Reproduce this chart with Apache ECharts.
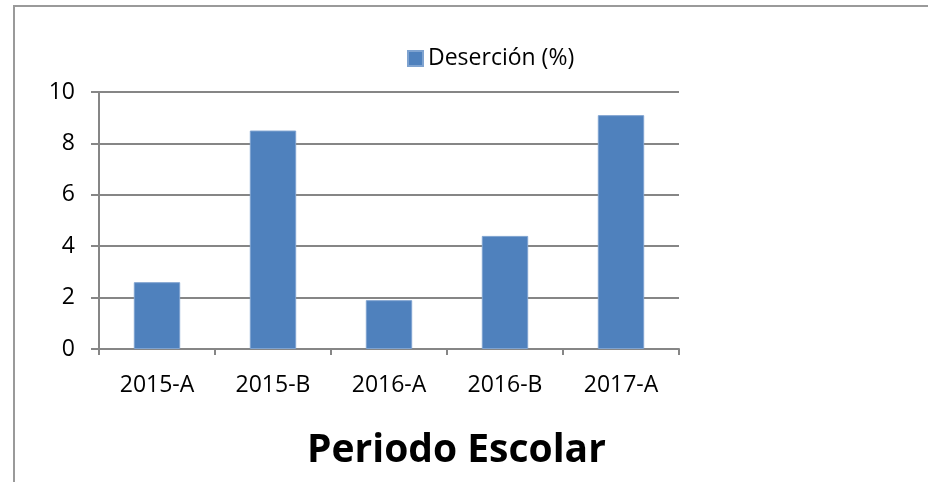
<!DOCTYPE html>
<html>
<head>
<meta charset="utf-8">
<script src="https://cdn.jsdelivr.net/npm/echarts@6/dist/echarts.min.js"></script>
<style>html,body{margin:0;padding:0;background:#fff}#c{width:928px;height:482px}</style>
</head>
<body>
<div id="c"></div>
<script>
const categories = ['2015-A', '2015-B', '2016-A', '2016-B', '2017-A'];
const desercion = [2.6, 8.5, 1.9, 4.4, 9.1];
const seriesName = 'Deserción (%)';
const axisTitle = 'Periodo Escolar';
const yMin = 0, yMax = 10, yStep = 2;

const chart = echarts.init(document.getElementById('c'));
const font = '"Open Sans", sans-serif';
chart.setOption({
  animation: false,
  backgroundColor: '#fff',
  graphic: [{
    type: 'polyline',
    shape: { points: [[14, 490], [14, 6], [940, 6]] },
    style: { stroke: '#9a9a9a', lineWidth: 2, fill: null }
  }],
  title: {
    text: axisTitle,
    left: 302, top: 426,
    textStyle: { fontFamily: font, fontWeight: 'bold', fontSize: 39, color: '#000' }
  },
  legend: {
    left: 402, top: 42,
    icon: 'rect', itemWidth: 15, itemHeight: 15, itemGap: 6,
    textStyle: { fontFamily: font, fontSize: 23, color: '#000' },
    data: [seriesName]
  },
  grid: { left: 99, right: 249, top: 92, bottom: 133, containLabel: false },
  xAxis: {
    type: 'category',
    data: categories,
    boundaryGap: true,
    axisLine: { lineStyle: { color: '#868686', width: 2 } },
    axisTick: { show: true, length: 6, alignWithLabel: false, lineStyle: { color: '#868686', width: 2 } },
    axisLabel: { margin: 25, fontFamily: font, fontSize: 23, color: '#000' }
  },
  yAxis: {
    type: 'value', min: yMin, max: yMax, interval: yStep,
    axisLine: { show: true, lineStyle: { color: '#868686', width: 2 } },
    axisTick: { show: true, length: 8, lineStyle: { color: '#868686', width: 2 } },
    splitLine: { lineStyle: { color: '#868686', width: 2 } },
    axisLabel: { margin: 24, fontFamily: font, fontSize: 23, color: '#000' }
  },
  series: [{
    name: seriesName,
    type: 'bar',
    data: desercion,
    barWidth: '40%',
    itemStyle: { color: '#4F81BD', borderColor: '#7FA3D0', borderWidth: 1 }
  }]
});
</script>
</body>
</html>
